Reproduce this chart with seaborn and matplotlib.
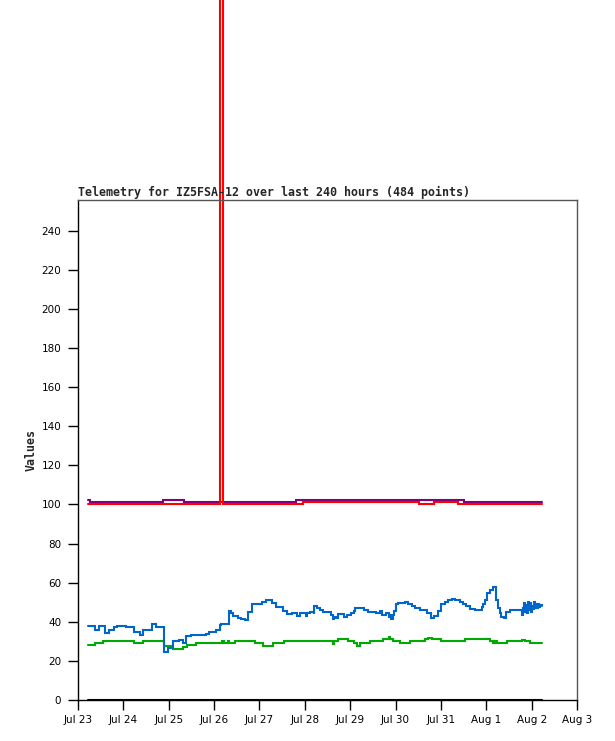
import matplotlib
matplotlib.use("Agg")
import matplotlib.pyplot as plt
import seaborn as sns
import pandas as pd

# ---- data (hours since Jul 23 00:00) ----
blue_hours = [5.1, 8.8, 10.9, 14.1, 16.2, 18.9, 20.5, 25.2, 29.4, 32.6, 34.2, 39.0, 41.1, 45.3,
              47.4, 50.1, 53.2, 55.3, 56.9, 59.6, 67.5, 69.1, 72.8, 74.9, 75.4, 79.7, 80.7,
              81.8, 84.9, 86.0, 88.6, 90.2, 91.8, 97.6, 99.7, 102.9, 105.0, 108.7, 110.8, 113.0,
              116.1, 117.7, 120.4, 121.4, 123.0, 124.6, 125.1, 126.2, 127.8, 129.4, 133.6, 134.7,
              135.2, 136.3, 137.8, 140.5, 142.1, 144.2, 145.8, 146.8, 151.1, 153.2, 157.4, 160.0,
              160.6, 162.7, 164.3, 165.3, 165.8, 166.9, 167.4, 168.5, 169.5, 173.2, 174.8, 176.9,
              178.5, 181.2, 184.9, 186.5, 187.0, 188.1, 190.7, 191.8, 194.4, 196.0, 198.1, 199.7,
              202.3, 203.9, 205.5, 207.6, 210.2, 214.0, 214.5, 215.5, 216.6, 218.2, 219.8, 221.4,
              222.4, 223.0, 224.0, 225.6, 226.7, 228.7, 235.1, 235.6, 236.2, 236.7, 237.2, 237.8,
              238.3, 238.8, 239.3, 239.9, 240.4, 240.9, 241.4, 242.0, 242.5, 243.0, 243.6, 244.1,
              244.6, 245.7]
blue_vals = [38, 36, 38, 34.5, 36, 37.5, 38, 37.5, 35, 33.5, 36, 39, 37.5, 24.5,
             26.5, 30, 30.5, 29, 32.5, 33, 34, 35, 36, 38.5, 39, 45.7, 44.3,
             43, 42, 41.3, 41, 45, 49, 50.3, 51.2, 49.5, 47.4, 45.7, 44, 44.3,
             43.1, 44.3, 43.1, 44.3, 45.2, 44, 48, 47, 46, 45, 43.5, 41.3,
             42.6, 42.1, 44, 42.3, 43.5, 44.7, 45.7, 46.9, 46, 45.2, 44.3, 45.7,
             43.5, 44.3, 42.3, 43.5, 41.3, 43.5, 45.5, 49.1, 49.5, 50.1, 49, 48,
             47.2, 46, 44.3, 43, 42.1, 43.1, 45.5, 48.9, 50.3, 51.2, 51.6, 51.2,
             50.3, 49, 48, 46.4, 46, 47.4, 49, 51.2, 54.6, 56.3, 58, 51.2,
             46.9, 44.7, 42.6, 41.8, 45.2, 46, 43.5, 47, 49.5, 45, 48.5, 44.3,
             50, 46, 49.5, 45, 48, 46.5, 50, 47, 49, 47, 49, 47.5,
             48.5, 48]

green_hours = [5.1, 9.0, 13.1, 29.4, 34.2, 45.3, 50.1, 55.3, 57.9, 62.2, 76.0, 77.0, 79.1, 79.7,
               83.3, 93.9, 98.1, 103.4, 109.2, 134.7, 135.2, 137.3, 142.6, 145.8, 147.8, 149.4,
               154.7, 161.1, 164.3, 165.3, 166.9, 170.6, 175.9, 183.8, 185.4, 187.5, 191.8,
               205.0, 218.2, 219.8, 220.8, 221.9, 227.2, 235.1, 236.7, 239.3, 245.7]
green_vals = [28, 29, 30, 29, 30, 27.6, 26, 27, 28, 29, 30.2, 29, 30.2, 29,
              30, 29, 27.8, 29, 30, 28.6, 30, 31, 30, 29, 27.8, 29,
              30, 31, 32, 31, 30, 29, 30, 31, 31.5, 31, 30,
              31, 30.2, 29, 30.2, 29, 30, 30.7, 30, 29, 29]

purple_hours = [5.1, 6.6, 44.8, 55.9, 115.1, 204.4, 245.7]
purple_vals = [102.5, 101.5, 102.5, 101.5, 102.5, 101.5, 101.5]

red_hours = [5.1, 75.3, 76.7, 119.3, 180.6, 188.1, 201.3, 245.7]
red_vals = [100.5, 99999, 100.5, 101.5, 100.5, 101.5, 100.5, 100.5]

black_hours = [5.1, 245.7]
black_vals = [0, 0]

tick_hours = [0, 24, 48, 72, 96, 120, 144, 168, 192, 216, 240, 264]
tick_labels = ["Jul 23", "Jul 24", "Jul 25", "Jul 26", "Jul 27", "Jul 28", "Jul 29",
               "Jul 30", "Jul 31", "Aug 1", "Aug 2", "Aug 3"]
y_ticks = list(range(0, 241, 20))

title = "Telemetry for IZ5FSA-12 over last 240 hours (484 points)"

# ---- plot ----
sns.set_style("ticks")
plt.rcParams['font.family'] = ['DejaVu Sans']

fig = plt.figure(figsize=(6.15, 7.41), dpi=100)
ax = fig.add_axes([78/615, 41/741, 499/615, 500/741])

series = [
    (purple_hours, purple_vals, "#800080", False),
    (red_hours, red_vals, "#ff0000", True),
    (green_hours, green_vals, "#00aa00", False),
    (blue_hours, blue_vals, "#0066cc", False),
    (black_hours, black_vals, "#000000", False),
]
for hrs, vals, col, noclip in series:
    df = pd.DataFrame({"h": hrs, "v": vals})
    sns.lineplot(data=df, x="h", y="v", ax=ax, color=col, linewidth=1.5,
                 drawstyle="steps-post", estimator=None, sort=False,
                 clip_on=not noclip, solid_joinstyle="miter")

ax.set_xlim(0, 264)
ax.set_ylim(0, 255.75)
ax.set_xticks(tick_hours)
ax.set_xticklabels(tick_labels)
ax.set_yticks(y_ticks)
ax.tick_params(axis="both", direction="out", length=7, width=1, color="black",
               labelsize=7.5, labelcolor="black", pad=5)
ax.tick_params(axis="x", pad=4)
ax.set_xlabel("")
ax.set_ylabel("Values", family="DejaVu Sans Mono", fontweight="bold", fontsize=8.4, labelpad=2.5)
ax.set_title(title, loc="left", family="DejaVu Sans Mono", fontweight="bold",
             fontsize=8.4, pad=3)

for side in ["left", "bottom"]:
    ax.spines[side].set_color("black")
    ax.spines[side].set_linewidth(1)
for side in ["top", "right"]:
    ax.spines[side].set_visible(True)
    ax.spines[side].set_color("#555555")
    ax.spines[side].set_linewidth(1)

fig.savefig("out.png", dpi=100)
